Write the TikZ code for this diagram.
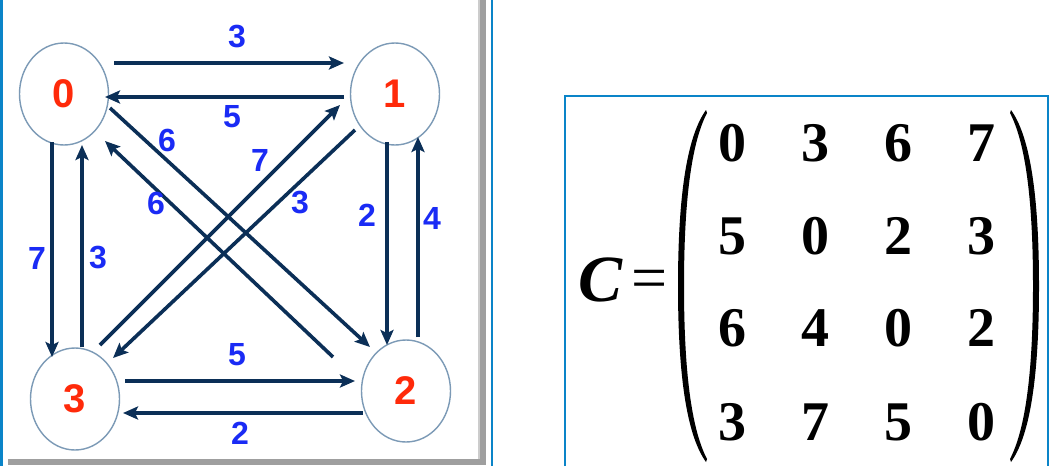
\documentclass[tikz,border=0pt]{standalone}
\usepackage{fontspec}
\setmainfont{Liberation Serif}
\newfontfamily\lsans{Liberation Sans}
\usetikzlibrary{arrows.meta,shapes.geometric,calc}
\definecolor{edgec}{HTML}{0B2F57}
\definecolor{wlab}{HTML}{1A2BF5}
\definecolor{vlab}{HTML}{FF2A0A}
\definecolor{vring}{HTML}{7C9AB6}
\definecolor{framec}{HTML}{0A84C8}
\begin{document}
\begin{tikzpicture}[x=1pt,y=-1pt,
  vertex/.style={ellipse, draw=vring, line width=1.4pt, minimum width=89pt, minimum height=102pt, inner sep=0pt,
    font=\lsans\bfseries\fontsize{40}{40}\selectfont, text=vlab},
  edgeline/.style={draw=edgec, line width=3.6pt, -{Stealth[length=15pt,width=13pt,inset=3pt]}},
  wlabel/.style={font=\lsans\bfseries\fontsize{32}{32}\selectfont, text=wlab, inner sep=0pt},
  entry/.style={font=\bfseries\fontsize{56}{56}\selectfont, inner sep=0pt},
  framel/.style={draw=framec, line width=2.2pt}]
\useasboundingbox (0,0) rectangle (1052,466);
\fill[white] (0,0) rectangle (1052,466);
% left panel frame and shadow
\fill[gray!75] (480,0) rectangle (486,464);
\fill[gray!40] (478,0) rectangle (480,462);
\fill[gray!75] (8,459) rectangle (486,465);
\draw[framel] (1.5,0) -- (1.5,466);
\draw[framel] (492,0) -- (492,466);
% right panel frame
\draw[framel] (565,466) -- (565,96) -- (1048,96) -- (1048,466);
% vertices
\node[vertex] (n0) at (64,94) {0};
\node[vertex] (n1) at (395,94) {1};
\node[vertex] (n2) at (406,391) {2};
\node[vertex] (n3) at (75,399) {3};
% edges
\draw[edgeline] ([shift={(50,-31)}]n0.center) -- ([shift={(-51,-31)}]n1.center);
\draw[edgeline] ([shift={(-51,3)}]n1.center) -- ([shift={(41,3)}]n0.center);
\draw[edgeline] ([shift={(46,14)}]n0.center) -- ([shift={(-36,-44)}]n2.center);
\draw[edgeline] ([shift={(-73,-34)}]n2.center) -- ([shift={(41,47)}]n0.center);
\draw[edgeline] ([shift={(25,-54)}]n3.center) -- ([shift={(-55,11)}]n1.center);
\draw[edgeline] ([shift={(-40,36)}]n1.center) -- ([shift={(38,-41)}]n3.center);
\draw[edgeline] ([shift={(-8,48)}]n1.center) -- ([shift={(-19,-46)}]n2.center);
\draw[edgeline] ([shift={(12,-54)}]n2.center) -- ([shift={(23,43)}]n1.center);
\draw[edgeline] ([shift={(-12,48)}]n0.center) -- ([shift={(-23,-42)}]n3.center);
\draw[edgeline] ([shift={(7,-52)}]n3.center) -- ([shift={(18,51)}]n0.center);
\draw[edgeline] ([shift={(50,-18)}]n3.center) -- ([shift={(-51,-10)}]n2.center);
\draw[edgeline] ([shift={(-43,22)}]n2.center) -- ([shift={(48,14)}]n3.center);
% weights
\node[wlabel] (w01) at (237,37) {3};
\node[wlabel] (w10) at (232,117) {5};
\node[wlabel] (w02) at (167,140) {6};
\node[wlabel] (w20) at (156,203) {6};
\node[wlabel] (w31) at (260,160) {7};
\node[wlabel] (w13) at (300,203) {3};
\node[wlabel] (w12) at (367,215) {2};
\node[wlabel] (w21) at (432,218) {4};
\node[wlabel] (w03) at (37,258) {7};
\node[wlabel] (w30) at (98,258) {3};
\node[wlabel] (w32) at (237,355) {5};
\node[wlabel] (w23) at (240,433) {2};
% matrix
\node[inner sep=0pt, font=\fontsize{66}{66}\selectfont\bfseries\itshape] (cc) at (601,280) {C};
\node[inner sep=0pt, font=\fontsize{64}{64}\selectfont] (eq) at (650,285) {=};
\fill (706,110) .. controls (688,135) and (678,190) .. (678,286) .. controls (678,382) and (688,437) .. (706,462)
  -- (707,459) .. controls (693,432) and (684,380) .. (684,286) .. controls (684,192) and (693,140) .. (707,113) -- cycle;
\fill (1011,110) .. controls (1029,135) and (1039,190) .. (1039,286) .. controls (1039,382) and (1029,437) .. (1011,462)
  -- (1010,459) .. controls (1024,432) and (1033,380) .. (1033,286) .. controls (1033,192) and (1024,140) .. (1010,113) -- cycle;
\foreach \r/\yy/\vals in {1/143/{0,3,6,7},2/236/{5,0,2,3},3/328/{6,4,0,2},4/422/{3,7,5,0}} {
  \foreach \v [count=\c] in \vals {
    \node[entry] (m\r\c) at ({732+(\c-1)*83.3},\yy) {\v};
  }
}
\end{tikzpicture}
\end{document}
